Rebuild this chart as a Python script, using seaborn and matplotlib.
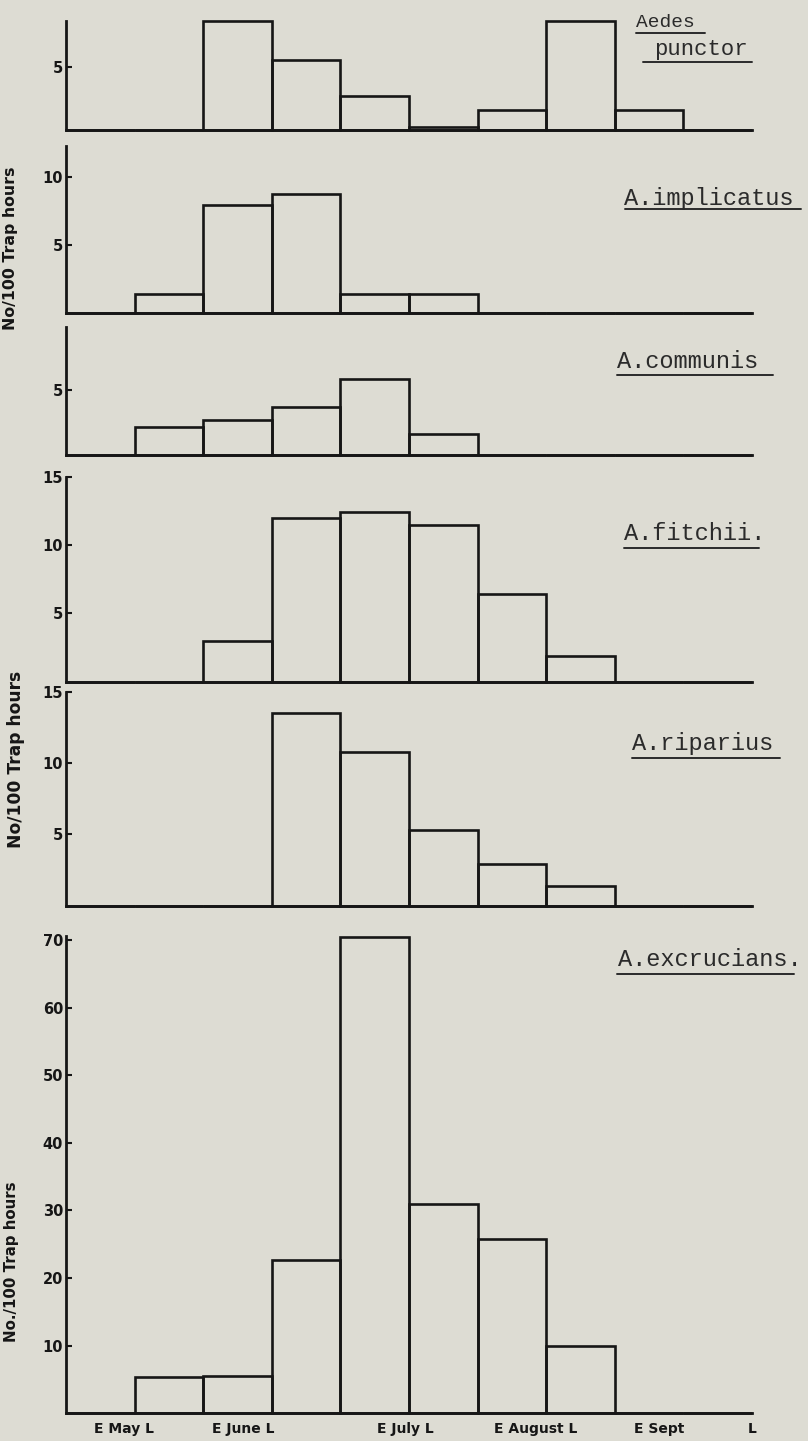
import numpy as np
import pandas as pd
import matplotlib
matplotlib.use("Agg")
import matplotlib.pyplot as plt
from matplotlib.lines import Line2D
import seaborn as sns

# ---------------- data ----------------
periods = ["E May", "L May", "E June", "L June", "E July",
           "L July", "E Aug", "L Aug", "E Sept", "L Sept"]
species = ["Aedes punctor", "A.implicatus", "A.communis",
           "A.fitchii.", "A.riparius", "A.excrucians."]
punctor = [0, 0, 8.6, 5.5, 2.7, 0.2, 1.6, 8.6, 1.6, 0]
implicatus = [0, 1.4, 7.9, 8.7, 1.4, 1.4, 0, 0, 0, 0]
communis = [0, 2.15, 2.7, 3.7, 5.8, 1.6, 0, 0, 0, 0]
fitchii = [0, 0, 3.0, 12.0, 12.4, 11.5, 6.4, 1.9, 0, 0]
riparius = [0, 0, 0, 13.5, 10.8, 5.3, 2.9, 1.4, 0, 0]
excrucians = [0, 5.3, 5.5, 22.7, 70.5, 31.0, 25.8, 10.0, 0, 0]
series = [punctor, implicatus, communis, fitchii, riparius, excrucians]
yticks = [[5], [5, 10], [5], [5, 10, 15], [5, 10, 15],
          [10, 20, 30, 40, 50, 60, 70]]
ylims = [8.6, 12.25, 9.8, 15, 15, 70.6]
month_labels = ["E May L", "E June L", "E July L", "E August L", "E Sept", "L"]
ylabel_texts = ["No/100 Trap hours", "No/100 Trap hours", "No./100 Trap hours"]

# ---------------- layout (pixels) ----------------
W, H = 808, 1441
BG = "#dddcd3"
INK = "#161616"
panel_px = [(21, 130), (146, 312.7), (326.7, 455), (476.7, 681.7),
            (691.7, 905.7), (936, 1413.3)]
X0, X1 = 66, 752
month_pos = [0.84, 2.58, 4.94, 6.85, 8.64, 10.0]

sns.set_theme(style="ticks")
plt.rcParams["font.family"] = ["DejaVu Sans"]

fig = plt.figure(figsize=(W / 100, H / 100), dpi=100, facecolor=BG)

centers = np.arange(len(periods)) + 0.5

for i, (vals, (top, base)) in enumerate(zip(series, panel_px)):
    ax = fig.add_axes([X0 / W, 1 - base / H, (X1 - X0) / W, (base - top) / H])
    ax.set_facecolor(BG)
    df = pd.DataFrame({"period": periods, "pos": centers, "value": vals})
    sns.histplot(data=df, x="pos", weights="value", binwidth=1,
                 binrange=(0, len(periods)), fill=False,
                 color=INK, linewidth=1.9, ax=ax)
    for p in ax.patches:
        p.set_clip_on(False)
    ax.set_xlim(0, 10)
    ax.set_ylim(0, ylims[i])
    ax.set_xlabel("")
    ax.set_ylabel("")
    for s in ["top", "right"]:
        ax.spines[s].set_visible(False)
    for s in ["left", "bottom"]:
        ax.spines[s].set_linewidth(2.0)
        ax.spines[s].set_color(INK)
    ax.set_yticks(yticks[i])
    ax.set_yticklabels([str(t) for t in yticks[i]], fontweight="bold",
                       fontsize=10.5, color=INK)
    ax.tick_params(axis="y", direction="in", length=4, width=1.5,
                   pad=2, colors=INK)
    if i == len(series) - 1:
        ax.set_xticks(month_pos)
        ax.set_xticklabels(month_labels, fontweight="bold", fontsize=10,
                           color=INK)
        ax.tick_params(axis="x", length=0, pad=6)
    else:
        ax.set_xticks([])

# species names (typewriter) with underlines
def fx(x):
    return x / W

def fy(y):
    return 1 - y / H

name_specs = [
    ("Aedes", 636, 26.7, 14, (636, 705, 33)),
    ("punctor", 654, 55, 16, (643, 752, 61.7)),
]
rest = species[1:]
rest_specs = [(624, 205, 17, (625, 801, 209)),
              (617, 368, 17, (617, 773, 375)),
              (624, 540, 17, (624, 759, 548.3)),
              (632, 750, 17, (632, 780, 758.3)),
              (618, 966, 17, (617, 794, 974))]
first = species[0].split(" ")
all_specs = [(first[0],) + name_specs[0][1:], (first[1],) + name_specs[1][1:]]
all_specs += [(n,) + s for n, s in zip(rest, rest_specs)]

for name, x, y, fs, (ux0, ux1, uy) in all_specs:
    fig.text(fx(x), fy(y), name, family="Liberation Mono", fontsize=fs,
             ha="left", va="baseline", color="#2b2b2b")
    fig.add_artist(Line2D([fx(ux0), fx(ux1)], [fy(uy), fy(uy)],
                          transform=fig.transFigure, color="#2b2b2b",
                          linewidth=1.4))

# y-axis labels
for txt, (x, y, fs) in zip(ylabel_texts, [(11, 248, 11.3), (16, 759, 12.3),
                                          (12, 1262, 10.8)]):
    fig.text(fx(x), fy(y), txt, rotation=90, ha="center", va="center",
             fontsize=fs, fontweight="bold", color=INK)

fig.savefig("out.png", dpi=100, facecolor=BG)
